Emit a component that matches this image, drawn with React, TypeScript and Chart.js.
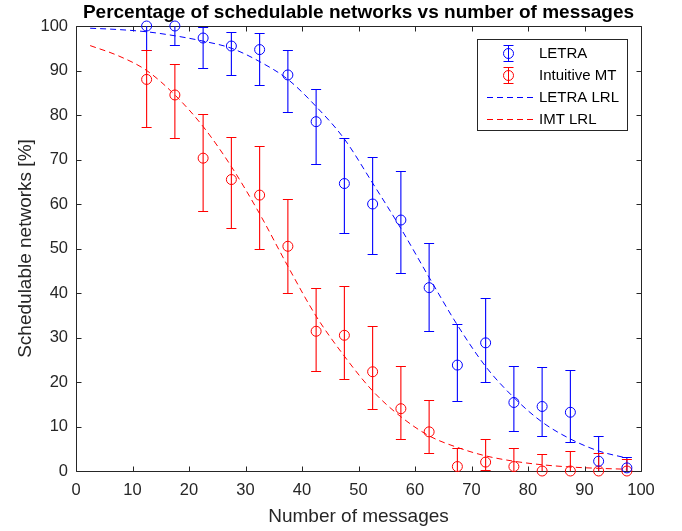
import React, { useEffect, useRef } from 'react';
import { Chart, registerables } from 'chart.js';

Chart.register(...registerables);

// ---- Data ----
const messageCounts = [12.5, 17.5, 22.5, 27.5, 32.5, 37.5, 42.5, 47.5, 52.5, 57.5, 62.5, 67.5, 72.5, 77.5, 82.5, 87.5, 92.5, 97.5];

const letraMean = [100, 100, 97.3, 95.5, 94.7, 89, 78.5, 64.6, 60, 56.4, 41.2, 23.8, 28.8, 15.4, 14.5, 13.2, 2.2, 0.7];
const letraLow = [94.6, 95.7, 90.6, 89, 86.7, 80.7, 69.1, 53.4, 48.8, 44.6, 31.5, 15.8, 20, 9, 7.9, 6.5, -3.5, -1.7];
const letraHigh = [105.4, 104.3, 99.8, 98.7, 98.5, 94.5, 85.9, 74.9, 70.5, 67.5, 51.3, 33.1, 38.9, 23.7, 23.4, 22.8, 7.9, 3.1];

const imtMean = [88, 84.5, 70.3, 65.5, 62, 50.5, 31.4, 30.5, 22.3, 14, 8.8, 1, 2, 1, 0, 0, 0, 0];
const imtLow = [77.4, 74.9, 58.4, 54.7, 50, 39.9, 22.5, 20.7, 13.9, 7.2, 4.1, -3.2, 0.2, -3.1, -3.9, -4.6, -4.1, -2.8];
const imtHigh = [94.6, 91.5, 80.2, 75.1, 73.1, 61.2, 41.2, 41.6, 32.6, 23.7, 16, 5.2, 7.2, 5.1, 3.9, 4.6, 4.1, 2.8];

const lrlX = [2.5, 7.5, 12.5, 17.5, 22.5, 27.5, 32.5, 37.5, 42.5, 47.5, 52.5, 57.5, 62.5, 67.5, 72.5, 77.5, 82.5, 87.5, 92.5, 97.5];
const letraLrl = [99.5, 99.2, 98.7, 97.8, 96.6, 95, 92, 88, 81.9, 74.6, 64.7, 54.5, 43.5, 32.8, 23.5, 16.5, 11, 7.2, 4.5, 2.9];
const imtLrl = [95.6, 93.3, 90, 84.5, 77.4, 68.4, 57.8, 46, 34.8, 25.8, 18, 12.2, 7.9, 5.3, 3.4, 2.2, 1.4, 0.9, 0.6, 0.4];

const xTicks = [0, 10, 20, 30, 40, 50, 60, 70, 80, 90, 100];
const yTicks = [0, 10, 20, 30, 40, 50, 60, 70, 80, 90, 100];

const titleText = 'Percentage of schedulable networks vs number of messages';
const xTitle = 'Number of messages';
const yTitle = 'Schedulable networks [%]';
const legendLabels = ['LETRA', 'Intuitive MT', 'LETRA LRL', 'IMT LRL'];

const BLUE = '#0000ff';
const RED = '#ff0000';
const AXIS = '#262626';
const FONT = '"Liberation Sans", Arial, Helvetica, sans-serif';

const errorSeries = [
  { color: BLUE, low: letraLow, high: letraHigh },
  { color: RED, low: imtLow, high: imtHigh },
];

const matlabPlugin = {
  id: 'matlabDecor',
  beforeDatasetsDraw(chart: any) {
    const { ctx, chartArea: a, scales } = chart;
    const xs = scales.x;
    const ys = scales.y;
    // axes box and inward ticks
    ctx.save();
    ctx.strokeStyle = AXIS;
    ctx.lineWidth = 1;
    const L = Math.round(a.left) + 0.5;
    const R = Math.round(a.right) + 0.5;
    const T = Math.round(a.top) + 0.5;
    const B = Math.round(a.bottom) + 0.5;
    ctx.beginPath();
    ctx.rect(L, T, R - L, B - T);
    const tl = 5;
    xTicks.forEach((v) => {
      const px = Math.round(xs.getPixelForValue(v)) + 0.5;
      ctx.moveTo(px, B);
      ctx.lineTo(px, B - tl);
      ctx.moveTo(px, T);
      ctx.lineTo(px, T + tl);
    });
    yTicks.forEach((v) => {
      const py = Math.round(ys.getPixelForValue(v)) + 0.5;
      ctx.moveTo(L, py);
      ctx.lineTo(L + tl, py);
      ctx.moveTo(R, py);
      ctx.lineTo(R - tl, py);
    });
    ctx.stroke();
    ctx.restore();

    // error bars (clipped to the axes)
    ctx.save();
    ctx.beginPath();
    ctx.rect(a.left, a.top, a.right - a.left, a.bottom - a.top);
    ctx.clip();
    ctx.lineWidth = 1.1;
    errorSeries.forEach((s) => {
      ctx.strokeStyle = s.color;
      ctx.beginPath();
      messageCounts.forEach((m, i) => {
        const px = xs.getPixelForValue(m);
        const pLow = Math.round(ys.getPixelForValue(s.low[i])) + 0.5;
        const pHigh = Math.round(ys.getPixelForValue(s.high[i])) + 0.5;
        const cap = 5;
        ctx.moveTo(px, pLow);
        ctx.lineTo(px, pHigh);
        ctx.moveTo(px - cap, pLow);
        ctx.lineTo(px + cap, pLow);
        ctx.moveTo(px - cap, pHigh);
        ctx.lineTo(px + cap, pHigh);
      });
      ctx.stroke();
    });
    ctx.restore();
  },
  afterDraw(chart: any) {
    const { ctx, chartArea: a } = chart;
    const cx = (a.left + a.right) / 2;
    const cy = (a.top + a.bottom) / 2;
    ctx.save();
    // title
    ctx.fillStyle = '#000000';
    ctx.font = `bold 19px ${FONT}`;
    ctx.textAlign = 'center';
    ctx.textBaseline = 'alphabetic';
    ctx.fillText(titleText, cx, 18);
    // x title
    ctx.fillStyle = AXIS;
    ctx.font = `19px ${FONT}`;
    ctx.fillText(xTitle, cx, 522);
    // y title
    ctx.save();
    ctx.translate(31, cy);
    ctx.rotate(-Math.PI / 2);
    ctx.fillText(yTitle, 0, 0);
    ctx.restore();

    // legend
    const bx = 477.5, by = 39.5, bw = 150, bh = 91;
    ctx.fillStyle = '#ffffff';
    ctx.fillRect(bx, by, bw, bh);
    ctx.strokeStyle = AXIS;
    ctx.lineWidth = 1;
    ctx.strokeRect(bx, by, bw, bh);
    const rows = [53.5, 75.5, 97.5, 119.5];
    const colors = [BLUE, RED, BLUE, RED];
    rows.forEach((ry, i) => {
      ctx.strokeStyle = colors[i];
      ctx.lineWidth = 1;
      if (i < 2) {
        const sx = 508.5;
        ctx.beginPath();
        ctx.moveTo(sx, ry - 8);
        ctx.lineTo(sx, ry + 8);
        ctx.moveTo(sx - 5, ry - 8);
        ctx.lineTo(sx + 5, ry - 8);
        ctx.moveTo(sx - 5, ry + 8);
        ctx.lineTo(sx + 5, ry + 8);
        ctx.stroke();
        ctx.beginPath();
        ctx.arc(sx, ry, 5, 0, Math.PI * 2);
        ctx.stroke();
      } else {
        ctx.save();
        ctx.setLineDash([6, 4]);
        ctx.beginPath();
        ctx.moveTo(487, ry);
        ctx.lineTo(534, ry);
        ctx.stroke();
        ctx.restore();
      }
      ctx.fillStyle = '#000000';
      ctx.font = `15px ${FONT}`;
      ctx.textAlign = 'left';
      ctx.textBaseline = 'middle';
      ctx.fillText(legendLabels[i], 539, ry + 0.5);
    });
    ctx.restore();
  },
};

export default function App() {
  const canvasRef = useRef<HTMLCanvasElement | null>(null);

  useEffect(() => {
    if (!canvasRef.current) return;
    const toPts = (xs: number[], ys: number[]) => xs.map((x, i) => ({ x, y: ys[i] }));
    const chart = new Chart(canvasRef.current, {
      type: 'scatter',
      data: {
        datasets: [
          {
            label: 'LETRA',
            data: toPts(messageCounts, letraMean),
            showLine: false,
            pointStyle: 'circle',
            pointRadius: 5,
            pointBorderWidth: 1,
            pointBorderColor: BLUE,
            pointBackgroundColor: 'rgba(0,0,0,0)',
            borderColor: BLUE,
            clip: false as any,
          },
          {
            label: 'Intuitive MT',
            data: toPts(messageCounts, imtMean),
            showLine: false,
            pointStyle: 'circle',
            pointRadius: 5,
            pointBorderWidth: 1,
            pointBorderColor: RED,
            pointBackgroundColor: 'rgba(0,0,0,0)',
            borderColor: RED,
            clip: false as any,
          },
          {
            label: 'LETRA LRL',
            data: toPts(lrlX, letraLrl),
            showLine: true,
            pointRadius: 0,
            borderColor: BLUE,
            borderWidth: 1,
            borderDash: [6, 4],
            cubicInterpolationMode: 'monotone',
            fill: false,
          },
          {
            label: 'IMT LRL',
            data: toPts(lrlX, imtLrl),
            showLine: true,
            pointRadius: 0,
            borderColor: RED,
            borderWidth: 1,
            borderDash: [6, 4],
            cubicInterpolationMode: 'monotone',
            fill: false,
          },
        ],
      },
      options: {
        animation: false,
        responsive: true,
        maintainAspectRatio: false,
        layout: { padding: { top: 26, right: 41, left: 0, bottom: 0 } },
        plugins: {
          legend: { display: false },
          title: { display: false },
          tooltip: { enabled: false },
        },
        scales: {
          x: {
            type: 'linear',
            min: 0,
            max: 100,
            afterBuildTicks: (scale: any) => {
              scale.ticks = xTicks.map((v) => ({ value: v }));
            },
            afterFit: (scale: any) => {
              scale.height = 60;
            },
            grid: { display: false, drawTicks: false, tickLength: 0 },
            border: { display: false },
            ticks: {
              font: { family: FONT, size: 16.5 },
              color: AXIS,
              padding: 10,
              maxRotation: 0,
              autoSkip: false,
            },
          },
          y: {
            type: 'linear',
            min: 0,
            max: 100,
            afterBuildTicks: (scale: any) => {
              scale.ticks = yTicks.map((v) => ({ value: v }));
            },
            afterFit: (scale: any) => {
              scale.width = 76;
            },
            grid: { display: false, drawTicks: false, tickLength: 0 },
            border: { display: false },
            ticks: {
              font: { family: FONT, size: 16.5 },
              color: AXIS,
              padding: 8,
              autoSkip: false,
            },
          },
        },
      },
      plugins: [matlabPlugin],
    });
    return () => chart.destroy();
  }, []);

  return (
    <div style={{ position: 'absolute', left: 0, top: 0, width: 682, height: 531, background: '#ffffff' }}>
      <canvas ref={canvasRef} />
    </div>
  );
}
